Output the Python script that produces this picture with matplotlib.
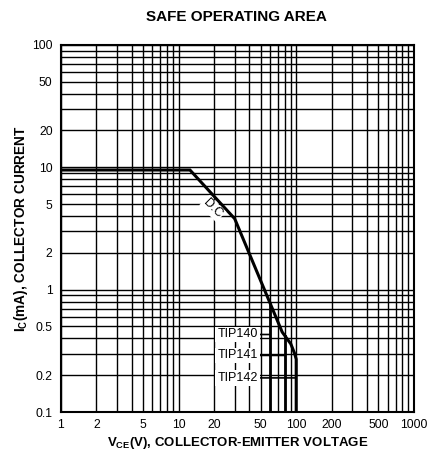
import matplotlib
matplotlib.use("Agg")
import matplotlib.pyplot as plt
from matplotlib.ticker import FixedLocator, LogLocator, NullFormatter

plt.rcParams['font.family'] = ['Liberation Sans', 'DejaVu Sans']

# DC safe operating boundary (common part)
vce_dc = [1, 12.5, 30, 76, 90, 97, 100, 100]
ic_dc = [9.5, 9.5, 3.8, 0.45, 0.36, 0.3, 0.27, 0.1]
# Voltage limited branches
tip140_v = [60, 60]
tip140_i = [0.78, 0.1]
tip141_v = [80, 80]
tip141_i = [0.42, 0.1]

x_ticks = [1, 2, 5, 10, 20, 50, 100, 200, 500, 1000]
x_labels = ['1', '2', '5', '10', '20', '50', '100', '200', '500', '1000']
y_ticks = [0.1, 0.2, 0.5, 1, 2, 5, 10, 20, 50, 100]
y_labels = ['0.1', '0.2', '0.5', '1', '2', '5', '10', '20', '50', '100']

labels = ['TIP140', 'TIP141', 'TIP142']
label_y = [0.43, 0.29, 0.19]
label_target_x = [60, 80, 98]

fig = plt.figure(figsize=(4.32, 4.54), dpi=100)
ax = fig.add_axes([0.141, 0.0925, 0.817, 0.8085])
ax.set_xscale('log')
ax.set_yscale('log')
ax.set_xlim(1, 1000)
ax.set_ylim(0.1, 100)

ax.xaxis.set_major_locator(FixedLocator(x_ticks))
ax.set_xticklabels(x_labels)
ax.yaxis.set_major_locator(FixedLocator(y_ticks))
ax.set_yticklabels(y_labels)
ax.xaxis.set_minor_locator(LogLocator(base=10, subs=range(2, 10)))
ax.yaxis.set_minor_locator(LogLocator(base=10, subs=range(2, 10)))
ax.xaxis.set_minor_formatter(NullFormatter())
ax.yaxis.set_minor_formatter(NullFormatter())
ax.tick_params(which='both', length=0, labelsize=8.7)
ax.tick_params(axis='y', pad=6)
ax.tick_params(axis='x', pad=5)

ax.grid(True, which='both', color='black', linewidth=1.0)
for s in ax.spines.values():
    s.set_linewidth(1.5)

ax.plot(vce_dc, ic_dc, color='black', linewidth=2.2, solid_joinstyle='miter', zorder=3)
ax.plot(tip140_v, tip140_i, color='black', linewidth=2.0, zorder=3)
ax.plot(tip141_v, tip141_i, color='black', linewidth=2.0, zorder=3)

for lab, yv, tx in zip(labels, label_y, label_target_x):
    ax.annotate(lab, xy=(tx, yv), xytext=(47, yv), textcoords='data',
                ha='right', va='center', fontsize=9,
                bbox=dict(boxstyle='square,pad=0.15', fc='white', ec='none'),
                arrowprops=dict(arrowstyle='-', color='black', lw=1.2,
                                shrinkA=0, shrinkB=0), zorder=4)

ax.text(19.5, 4.6, 'D.C', rotation=-45, ha='center', va='center', fontsize=9,
        bbox=dict(boxstyle='square,pad=0.1', fc='white', ec='none'), zorder=4)

ax.set_xlabel('V$_{\\mathregular{CE}}$(V), COLLECTOR-EMITTER VOLTAGE',
              fontsize=9.5, fontweight='bold', labelpad=3)
ax.set_ylabel('I$_{\\mathregular{C}}$(mA), COLLECTOR CURRENT',
              fontsize=9.8, fontweight='bold', va='center')
ax.yaxis.set_label_coords(-0.112, 0.5)
fig.text(0.548, 0.962, 'SAFE OPERATING AREA', ha='center', va='center',
         fontsize=11, fontweight='bold')

fig.savefig('out.png', dpi=100, facecolor='white')
